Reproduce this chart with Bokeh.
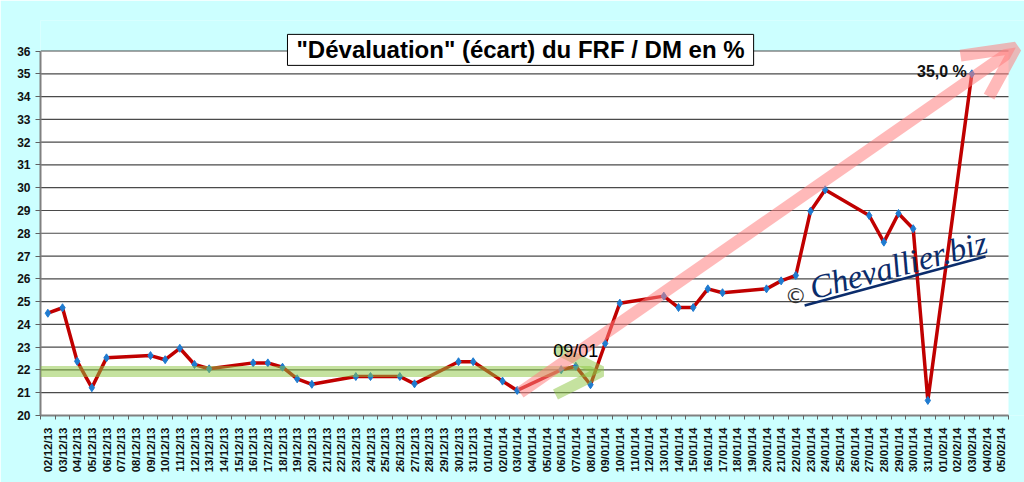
from bokeh.plotting import figure
from bokeh.models import Range1d, FixedTicker, Label, Arrow, OpenHead, ColumnDataSource
from bokeh.embed import file_html
from bokeh.resources import INLINE

# ---------------- data ----------------
dates = [
    "02/12/13", "03/12/13", "04/12/13", "05/12/13", "06/12/13", "07/12/13", "08/12/13",
    "09/12/13", "10/12/13", "11/12/13", "12/12/13", "13/12/13", "14/12/13", "15/12/13",
    "16/12/13", "17/12/13", "18/12/13", "19/12/13", "20/12/13", "21/12/13", "22/12/13",
    "23/12/13", "24/12/13", "25/12/13", "26/12/13", "27/12/13", "28/12/13", "29/12/13",
    "30/12/13", "31/12/13", "01/01/14", "02/01/14", "03/01/14", "04/01/14", "05/01/14",
    "06/01/14", "07/01/14", "08/01/14", "09/01/14", "10/01/14", "11/01/14", "12/01/14",
    "13/01/14", "14/01/14", "15/01/14", "16/01/14", "17/01/14", "18/01/14", "19/01/14",
    "20/01/14", "21/01/14", "22/01/14", "23/01/14", "24/01/14", "25/01/14", "26/01/14",
    "27/01/14", "28/01/14", "29/01/14", "30/01/14", "31/01/14", "01/02/14", "02/02/14",
    "03/02/14", "04/02/14", "05/02/14",
]
ecart = [
    24.49, 24.73, 22.38, 21.22, 22.53, None, None,
    22.63, 22.45, 22.95, 22.24, 22.05, None, None,
    22.31, 22.31, 22.12, 21.61, 21.37, None, None,
    21.71, 21.71, None, 21.71, 21.39, None, None,
    22.36, 22.36, None, 21.51, 21.10, None, None,
    22.01, 22.16, 21.35, 23.16, 24.93, None, None,
    25.24, 24.74, 24.74, 25.56, 25.39, None, None,
    25.56, 25.91, 26.15, 28.97, 29.91, None, None,
    28.78, 27.61, 28.87, 28.20, 20.66, None, None,
    35.00, None, None,
]
y_ticks = list(range(20, 37))
title_text = '"Dévaluation" (écart) du FRF / DM en %'
marked_date = "09/01/14"
marked_text = "09/01"
watermark = "Chevallier.biz"

# ---------------- figure ----------------
n = len(dates)
xs = [i for i, v in enumerate(ecart) if v is not None]
ys = [v for v in ecart if v is not None]
src = ColumnDataSource(data=dict(x=xs, y=ys))

BG = "#CCFFFF"
FONT = "Liberation Sans"

p = figure(width=1024, height=482, output_backend="svg", toolbar_location=None,
           x_range=Range1d(-0.5, 66.59), y_range=Range1d(20, 37.34),
           min_border_left=40, min_border_right=0, min_border_top=20, min_border_bottom=67)
p.background_fill_color = BG
p.border_fill_color = BG
p.outline_line_color = None
p.xgrid.visible = False
p.ygrid.visible = False

# white plotting area
lo, hi = -0.5, n - 0.5
p.quad(left=lo, right=hi, bottom=min(y_ticks), top=max(y_ticks),
       fill_color="white", line_color=None)
# horizontal grid lines
p.segment(x0=[lo] * len(y_ticks), x1=[hi] * len(y_ticks), y0=y_ticks, y1=y_ticks,
          line_color="#4a4a4a", line_width=1.2)

# series
p.line("x", "y", source=src, line_color="#C00000", line_width=3.5)
p.scatter("x", "y", source=src, marker="diamond", size=8, fill_color="#1F7BD0",
          line_color="#1F7BD0")

# axes
xa = p.xaxis[0]
xa.ticker = FixedTicker(ticks=list(range(n)), minor_ticks=[i - 0.5 for i in range(n + 1)])
xa.major_label_overrides = {i: d for i, d in enumerate(dates)}
xa.major_label_orientation = 1.5708
xa.major_tick_out = 0
xa.major_tick_in = 0
xa.minor_tick_out = 4
xa.minor_tick_in = 0
xa.minor_tick_line_color = "#606060"
xa.major_label_standoff = 8
xa.major_label_text_font = FONT
xa.major_label_text_font_style = "bold"
xa.major_label_text_font_size = "11.5px"
xa.major_label_text_color = "#111111"
xa.axis_line_color = "#808080"
xa.axis_line_width = 2
xa.bounds = (lo, hi)

ya = p.yaxis[0]
ya.ticker = FixedTicker(ticks=y_ticks)
ya.major_tick_out = 5
ya.major_tick_in = 0
ya.minor_tick_line_color = None
ya.major_tick_line_color = "#606060"
ya.major_label_standoff = 5
ya.major_label_text_font = FONT
ya.major_label_text_font_style = "bold"
ya.major_label_text_font_size = "12px"
ya.major_label_text_color = "#111111"
ya.axis_line_color = "#808080"
ya.axis_line_width = 2
ya.bounds = (min(y_ticks), max(y_ticks))

# green horizontal arrow (stability band)
GREEN = "#8CC63F"
p.add_layout(Arrow(x_start=lo, y_start=21.93, x_end=37.75, y_end=21.93,
                   line_color=GREEN, line_alpha=0.5, line_width=11,
                   end=OpenHead(size=46, line_color=GREEN, line_alpha=0.5, line_width=11)))
# pink rising arrow
PINK = "#FF7F7F"
p.add_layout(Arrow(x_start=32.2, y_start=21.01, x_end=66.0, y_end=36.15,
                   line_color=PINK, line_alpha=0.55, line_width=12,
                   end=OpenHead(size=50, line_color=PINK, line_alpha=0.55, line_width=12)))

# annotations linked to data
mi = dates.index(marked_date)
p.add_layout(Label(x=mi, y=ecart[mi], text=marked_text, x_offset=-52, y_offset=-7,
                   text_font=FONT, text_font_size="18px", text_color="black",
                   text_align="left", text_baseline="alphabetic"))
vmax = max(ys)
imax = ecart.index(vmax)
p.add_layout(Label(x=imax, y=vmax, text=f"{vmax:.1f} %".replace(".", ","),
                   x_offset=-5, y_offset=2, text_font=FONT, text_font_style="bold",
                   text_font_size="16px", text_color="#111111",
                   text_align="right", text_baseline="alphabetic"))

# title box with shadow
tx, ty = 32.23, 36.05
p.add_layout(Label(x=tx, y=ty, text=title_text, x_offset=3, y_offset=-3,
                   text_font=FONT, text_font_style="bold", text_font_size="24px",
                   text_alpha=0, text_align="center", text_baseline="middle",
                   background_fill_color="#666666", background_fill_alpha=0.7,
                   padding=dict(left=9, right=9, top=2, bottom=2)))
p.add_layout(Label(x=tx, y=ty, text=title_text,
                   text_font=FONT, text_font_style="bold", text_font_size="24px",
                   text_color="black", text_align="center", text_baseline="middle",
                   background_fill_color="white", border_line_color="black",
                   border_line_width=1, padding=dict(left=9, right=9, top=2, bottom=2)))

# watermark
p.add_layout(Label(x=51.0, y=25.27, text="©", text_font="DejaVu Sans",
                   text_font_size="22px", text_color="#333333",
                   text_align="center", text_baseline="middle"))
p.add_layout(Label(x=51.85, y=25.25, text=watermark, angle=15, angle_units="deg",
                   x_offset=2, y_offset=7,
                   text_font="Liberation Serif", text_font_style="italic",
                   text_font_size="33px", text_color="#0B2C6B",
                   text_align="left", text_baseline="alphabetic"))
p.add_layout(Arrow(x_start=51.6, y_start=24.83, x_end=63.93, y_end=26.98, end=None,
                   line_color="#0B2C6B", line_width=2.5))

html = file_html(p, INLINE)
html = html.replace("<body>", '<body style="background-color:#CCFFFF;">', 1)
open("out.html", "w").write(html)
